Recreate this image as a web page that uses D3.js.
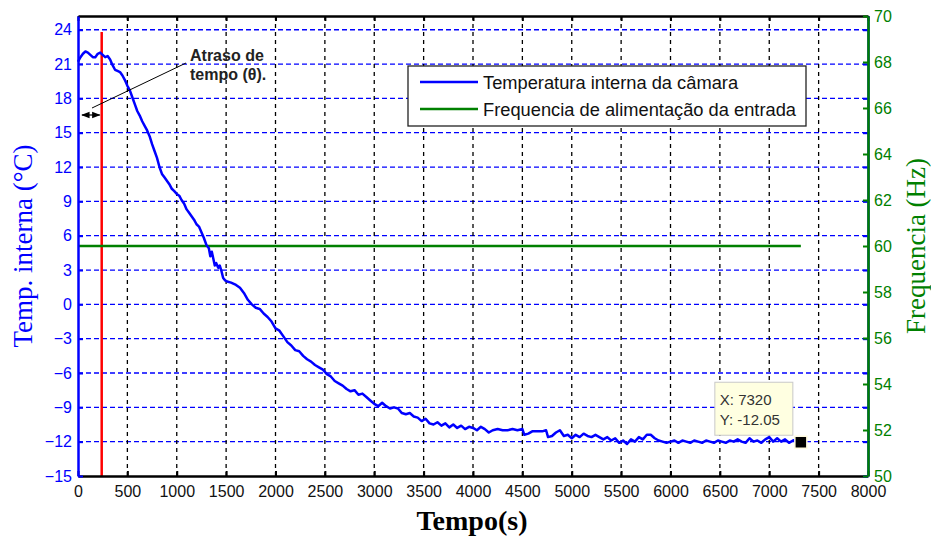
<!DOCTYPE html>
<html>
<head>
<meta charset="utf-8">
<script src="https://cdn.jsdelivr.net/npm/d3@7/dist/d3.min.js"></script>
<style>
  html, body { margin: 0; padding: 0; background: #fff; }
  svg { display: block; }
</style>
</head>
<body>
<svg id="chart" width="931" height="539"></svg>
<script>
// Chamber temperature (°C) over time (s)
const timeSec = [0,25,50,75,100,125,150,175,200,225,250,275,300,325,350,375,400,425,450,475,
  500,525,550,575,600,625,650,675,700,725,750,775,800,825,850,875,900,925,950,975,
  1000,1025,1050,1075,1100,1125,1150,1175,1200,1225,1250,1275,1300,1325,1340,1355,1370,1385,1400,1420,
  1435,1450,1470,1490,1510,1550,1600,1640,1680,1720,1760,1800,1840,1880,1920,1960,2000,2040,2080,2120,
  2160,2200,2240,2280,2320,2360,2400,2440,2480,2520,2560,2600,2640,2680,2720,2760,2800,2840,2880,2920,
  2960,3000,3040,3080,3120,3160,3200,3240,3280,3320,3360,3400,3440,3480,3520,3560,3600,3640,3680,3720,
  3760,3800,3840,3880,3920,3960,4000,4040,4080,4120,4160,4200,4250,4300,4350,4400,4450,4500,4520,4560,
  4600,4650,4700,4740,4760,4800,4840,4880,4920,4960,5000,5040,5080,5120,5160,5200,5240,5280,5320,5360,
  5400,5440,5480,5520,5560,5600,5640,5680,5720,5760,5800,5840,5880,5920,5960,6000,6040,6080,6120,6160,
  6200,6240,6280,6320,6360,6400,6440,6480,6520,6560,6600,6640,6680,6720,6760,6800,6840,6880,6920,6960,
  7000,7040,7080,7120,7160,7200,7240,7280,7320];
const tempC = [21.2,21.6,21.9,22.1,22.0,21.8,21.6,21.6,21.9,22.0,21.8,21.6,21.7,21.4,20.9,20.5,20.4,20.3,20.0,19.6,
  19.1,18.7,18.1,17.5,16.9,16.5,16.0,15.6,15.2,14.7,14.0,13.4,12.8,12.0,11.4,11.1,10.8,10.5,10.1,9.9,
  9.65,9.5,9.1,8.8,8.3,8.0,7.7,7.4,7.0,6.8,6.3,5.8,5.2,4.9,4.2,4.6,4.0,3.4,3.6,3.2,
  3.4,3.0,2.3,2.1,2.0,1.9,1.7,1.45,1.0,0.4,0.0,-0.3,-0.4,-0.8,-1.1,-1.5,-2.1,-2.3,-2.8,-3.3,
  -3.6,-4.0,-4.1,-4.5,-4.8,-5.0,-5.3,-5.5,-5.7,-6.1,-6.3,-6.7,-6.9,-7.1,-7.4,-7.6,-7.5,-7.9,-7.8,-8.1,
  -8.4,-8.7,-8.9,-8.6,-8.9,-9.1,-9.0,-9.1,-9.5,-9.6,-9.5,-9.8,-9.9,-10.2,-10.0,-10.4,-10.5,-10.3,-10.6,-10.4,
  -10.75,-10.5,-10.8,-10.6,-10.9,-10.7,-10.8,-11.0,-10.7,-10.9,-11.2,-11.0,-10.9,-11.0,-11.0,-10.9,-11.0,-10.9,-11.4,-11.3,
  -11.1,-11.1,-11.1,-11.0,-11.6,-11.5,-11.2,-11.0,-11.5,-11.4,-11.7,-11.4,-11.6,-11.3,-11.5,-11.6,-11.4,-11.6,-11.8,-11.6,
  -11.9,-11.7,-12.1,-11.9,-12.2,-11.8,-12.0,-11.6,-11.8,-11.4,-11.4,-11.7,-11.9,-12.0,-12.1,-12.0,-11.9,-12.1,-11.9,-12.0,
  -12.1,-11.9,-12.0,-12.1,-11.9,-12.0,-12.1,-11.9,-12.0,-12.1,-11.9,-12.0,-11.8,-12.0,-12.1,-11.7,-12.0,-11.9,-12.1,-11.8,
  -11.6,-12.0,-11.7,-12.0,-11.8,-12.1,-11.9,-11.8,-12.05];

// Input supply frequency (Hz), constant over the run
const freqTime = [0, 7320];
const freqHz = [60, 60];

// Dead-time marker
const delayTime = 240;
const delayTempRange = [-15, 23.8];

// Data tip
const tipPoint = { t: 7320, temp: -12.05 };

// Axis ranges and ticks
const xDomain = [0, 8000];
const xTicks = d3.range(0, 8001, 500);
const tempDomain = [-15, 25.2];
const tempTicks = d3.range(-15, 25, 3);
const freqDomain = [50, 70];
const freqTicks = d3.range(50, 71, 2);

const legendLabels = ["Temperatura interna da câmara", "Frequencia de alimentação da entrada"];

const BLUE = "#0000ff", GREEN = "#008000", RED = "#ff0000";
const plotL = 78, plotR = 868, plotT = 16, plotB = 476;

const svg = d3.select("#chart");
const x = d3.scaleLinear().domain(xDomain).range([plotL, plotR]);
const yT = d3.scaleLinear().domain(tempDomain).range([plotB, plotT]);
const yF = d3.scaleLinear().domain(freqDomain).range([plotB, plotT]);

// grid
const grid = svg.append("g");
grid.selectAll("line.h").data(tempTicks.filter(v => v > -15)).join("line")
  .attr("x1", plotL).attr("x2", plotR)
  .attr("y1", d => yT(d)).attr("y2", d => yT(d))
  .attr("stroke", BLUE).attr("stroke-width", 1.3).attr("stroke-dasharray", "5,3");
grid.selectAll("line.v").data(xTicks.filter(v => v > 0 && v < 8000)).join("line")
  .attr("x1", d => x(d)).attr("x2", d => x(d))
  .attr("y1", plotT).attr("y2", plotB)
  .attr("stroke", "#000").attr("stroke-width", 1.3).attr("stroke-dasharray", "4,4");

// data lines
svg.append("line")
  .attr("x1", x(delayTime)).attr("x2", x(delayTime))
  .attr("y1", yT(delayTempRange[0])).attr("y2", yT(delayTempRange[1]))
  .attr("stroke", RED).attr("stroke-width", 2.5);

const freqData = freqTime.map((t, i) => [t, freqHz[i]]);
svg.append("path").datum(freqData)
  .attr("d", d3.line().x(d => x(d[0])).y(d => yF(d[1])))
  .attr("fill", "none").attr("stroke", GREEN).attr("stroke-width", 2.5);

const tempData = timeSec.map((t, i) => [t, tempC[i]]);
svg.append("path").datum(tempData)
  .attr("d", d3.line().x(d => x(d[0])).y(d => yT(d[1])))
  .attr("fill", "none").attr("stroke", BLUE).attr("stroke-width", 2.5)
  .attr("stroke-linejoin", "round");

// axes
function styleAxis(g, color, width) {
  g.select(".domain").attr("stroke", color).attr("stroke-width", width);
  g.selectAll(".tick line").attr("stroke", color).attr("stroke-width", 2);
}
const fontFam = "'Liberation Sans', Arial, sans-serif";

const gTop = svg.append("g").attr("transform", `translate(0,${plotT})`)
  .call(d3.axisTop(x).tickValues(xTicks).tickSize(-5).tickSizeOuter(0).tickFormat(""));
styleAxis(gTop, "#000", 2.5);

const gBottom = svg.append("g").attr("transform", `translate(0,${plotB})`)
  .call(d3.axisBottom(x).tickValues(xTicks).tickSize(-5).tickSizeOuter(0).tickPadding(8).tickFormat(d3.format("d")));
styleAxis(gBottom, "#000", 2.5);
gBottom.selectAll(".tick text").attr("font-size", 16).attr("fill", "#111").attr("font-family", fontFam).attr("y", 10);

const gLeft = svg.append("g").attr("transform", `translate(${plotL},0)`)
  .call(d3.axisLeft(yT).tickValues(tempTicks).tickSize(-5).tickSizeOuter(0).tickPadding(6).tickFormat(d3.format("d")));
styleAxis(gLeft, BLUE, 2.5);
gLeft.selectAll(".tick text").attr("font-size", 16).attr("fill", BLUE).attr("font-family", fontFam).attr("x", -6);

const gRightT = svg.append("g").attr("transform", `translate(${plotR},0)`)
  .call(d3.axisRight(yT).tickValues(tempTicks).tickSize(-5).tickSizeOuter(0).tickFormat(""));
styleAxis(gRightT, BLUE, 2.5);

const gRight = svg.append("g").attr("transform", `translate(${plotR},0)`)
  .call(d3.axisRight(yF).tickValues(freqTicks).tickSize(-5).tickSizeOuter(0).tickPadding(6).tickFormat(d3.format("d")));
styleAxis(gRight, GREEN, 2.5);
gRight.selectAll(".tick text").attr("font-size", 16).attr("fill", GREEN).attr("font-family", fontFam).attr("x", 6);

// axis titles
const serif = "'Liberation Serif', 'DejaVu Serif', serif";
svg.append("text").text("Tempo(s)")
  .attr("x", 472).attr("y", 530).attr("text-anchor", "middle")
  .attr("font-family", serif).attr("font-weight", "bold").attr("font-size", 28).attr("fill", "#000");
svg.append("text").text("Temp. interna (°C)")
  .attr("transform", `translate(32,${(plotT + plotB) / 2}) rotate(-90)`)
  .attr("text-anchor", "middle").attr("font-family", serif).attr("font-size", 27).attr("fill", BLUE);
svg.append("text").text("Frequencia (Hz)")
  .attr("transform", `translate(925,${(plotT + plotB) / 2}) rotate(-90)`)
  .attr("text-anchor", "middle").attr("font-family", serif).attr("font-size", 27).attr("fill", GREEN);

// legend
const lg = svg.append("g");
lg.append("rect").attr("x", 408).attr("y", 66).attr("width", 398).attr("height", 60)
  .attr("fill", "#fff").attr("stroke", "#222").attr("stroke-width", 1.3);
[BLUE, GREEN].forEach((c, i) => {
  const yy = 82 + i * 27;
  lg.append("line").attr("x1", 420).attr("x2", 478).attr("y1", yy).attr("y2", yy)
    .attr("stroke", c).attr("stroke-width", 2.5);
  lg.append("text").text(legendLabels[i]).attr("x", 483).attr("y", yy + 7)
    .attr("font-family", fontFam).attr("font-size", 18.3).attr("fill", "#111");
});

// dead-time annotation
const defs = svg.append("defs");
defs.append("marker").attr("id", "ah").attr("viewBox", "0 0 10 10").attr("refX", 9).attr("refY", 5)
  .attr("markerWidth", 7).attr("markerHeight", 7).attr("orient", "auto-start-reverse")
  .append("path").attr("d", "M0,1 L10,5 L0,9 Z").attr("fill", "#000");
svg.append("line").attr("x1", x(0) + 4).attr("x2", x(delayTime) - 2)
  .attr("y1", 115).attr("y2", 115).attr("stroke", "#000").attr("stroke-width", 1.2)
  .attr("marker-start", "url(#ah)").attr("marker-end", "url(#ah)");
svg.append("line").attr("x1", 186).attr("y1", 63).attr("x2", 92).attr("y2", 108)
  .attr("stroke", "#000").attr("stroke-width", 1);
svg.append("text").text("Atraso de").attr("x", 190).attr("y", 61)
  .attr("font-family", fontFam).attr("font-weight", "bold").attr("font-size", 16).attr("fill", "#222");
svg.append("text").text("tempo (θ).").attr("x", 190).attr("y", 80)
  .attr("font-family", fontFam).attr("font-weight", "bold").attr("font-size", 16).attr("fill", "#222");

// data tip
const tx = x(tipPoint.t), ty = yT(tipPoint.temp);
svg.append("rect").attr("x", tx - 86).attr("y", ty - 60).attr("width", 78).attr("height", 53)
  .attr("fill", "#ffffe1").attr("stroke", "#c8c8c8").attr("stroke-width", 1);
svg.append("text").text("X: " + tipPoint.t).attr("x", tx - 81).attr("y", ty - 37)
  .attr("font-family", fontFam).attr("font-size", 15).attr("fill", "#333");
svg.append("text").text("Y: " + tipPoint.temp.toFixed(2)).attr("x", tx - 81).attr("y", ty - 17)
  .attr("font-family", fontFam).attr("font-size", 15).attr("fill", "#333");
svg.append("rect").attr("x", tx - 6).attr("y", ty - 6).attr("width", 12).attr("height", 12)
  .attr("fill", "#000").attr("stroke", "#fffbe0").attr("stroke-width", 1.5);
</script>
</body>
</html>
